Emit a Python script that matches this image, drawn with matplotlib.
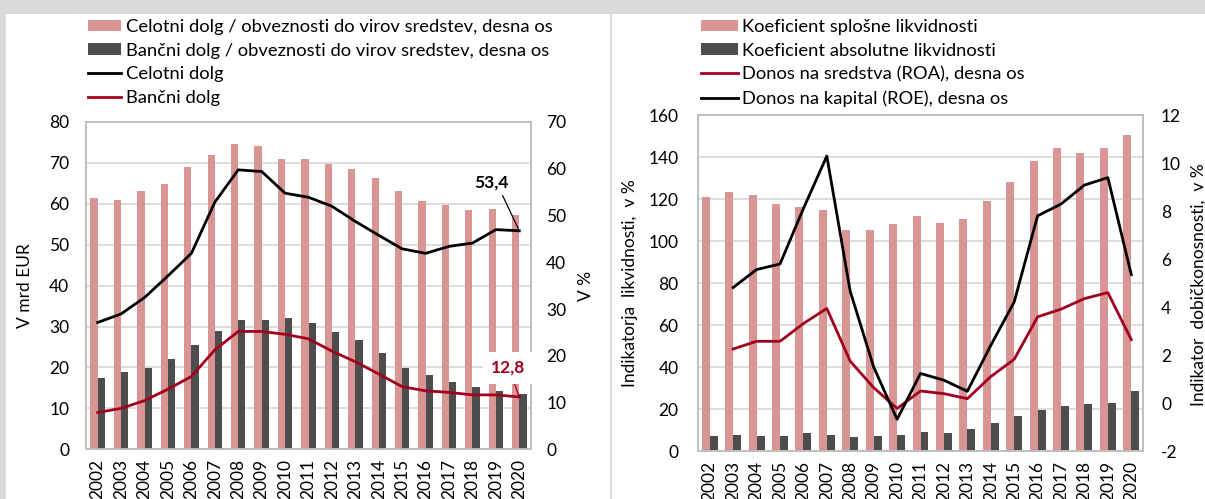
import numpy as np
import matplotlib
matplotlib.use("Agg")
import matplotlib.pyplot as plt
from matplotlib.patches import Rectangle
from matplotlib.lines import Line2D

plt.rcParams['font.family'] = ['Lato', 'DejaVu Sans']
plt.rcParams['axes.unicode_minus'] = False

# ---------------- data ----------------
years = [str(y) for y in range(2002, 2021)]

# left chart
celotni_share = [53.7, 53.4, 55.3, 56.8, 60.3, 63.0, 65.2, 64.9, 62.1, 62.1,
                 61.1, 59.9, 58.1, 55.3, 53.1, 52.2, 51.2, 51.3, 50.1]
bancni_share = [15.2, 16.5, 17.3, 19.3, 22.3, 25.4, 27.7, 27.7, 28.0, 27.0,
                25.1, 23.4, 20.5, 17.3, 15.8, 14.5, 13.4, 12.5, 11.8]
celotni_dolg = [31.0, 33.1, 37.1, 42.4, 47.9, 60.4, 68.3, 67.9, 62.6, 61.6,
                59.4, 55.7, 52.3, 49.0, 47.9, 49.6, 50.4, 53.7, 53.4]
bancni_dolg = [9.0, 10.0, 11.9, 14.7, 17.8, 24.3, 28.8, 28.8, 28.1, 27.0,
               24.0, 21.4, 18.4, 15.3, 14.3, 13.9, 13.3, 13.3, 12.8]

# right chart
splosna_likv = [121.0, 123.2, 121.9, 117.6, 116.2, 114.8, 105.1, 105.1, 107.9, 112.1,
                108.6, 110.6, 118.9, 127.9, 138.1, 144.3, 141.9, 144.3, 150.6]
absolutna_likv = [7.1, 7.8, 7.1, 7.1, 8.4, 7.8, 6.5, 7.1, 7.8, 9.2,
                  8.4, 10.5, 13.3, 16.7, 19.7, 21.6, 22.5, 23.0, 28.7]
roa = [np.nan, 2.25, 2.57, 2.57, 3.31, 3.94, 1.74, 0.64, -0.23, 0.50,
       0.39, 0.18, 1.1, 1.82, 3.59, 3.91, 4.35, 4.60, 2.64]
roe = [np.nan, 4.81, 5.56, 5.79, 8.1, 10.29, 4.65, 1.50, -0.68, 1.23,
       0.95, 0.49, 2.4, 4.21, 7.80, 8.29, 9.08, 9.39, 5.35]

left_labels = ["Celotni dolg / obveznosti do virov sredstev, desna os",
               "Bančni dolg / obveznosti do virov sredstev, desna os",
               "Celotni dolg", "Bančni dolg"]
right_labels = ["Koeficient splošne likvidnosti", "Koeficient absolutne likvidnosti",
                "Donos na sredstva (ROA), desna os", "Donos na kapital (ROE), desna os"]

# ---------------- style ----------------
PINK = '#D99594'
DARK = '#4D4D4D'
RED = '#A0001E'
GRID = '#D9D9D9'
SPINE = '#BFBFBF'
TICK_FS = 12.5
LEG_FS = 13.2
LAB_FS = 12.5

W, H = 1205, 499
fig = plt.figure(figsize=(W / 100, H / 100), dpi=100)
fig.patch.set_facecolor('white')

def fx(px):
    return px / W

def fy(py):
    return 1 - py / H

# gray frame pieces
fig.add_artist(Rectangle((0, fy(14)), 1, 14 / H, transform=fig.transFigure,
                         facecolor='#D9D9D9', edgecolor='none', zorder=-10))
fig.add_artist(Rectangle((0, 0), fx(6), 1, transform=fig.transFigure,
                         facecolor='#D9D9D9', edgecolor='none', zorder=-10))
fig.add_artist(Line2D([fx(611), fx(611)], [0, fy(14)], transform=fig.transFigure,
                      color='#D9D9D9', lw=1.2))

x = np.arange(len(years))


def style_axes(a):
    for s in a.spines.values():
        s.set_color(SPINE)
        s.set_linewidth(1.3)
    a.tick_params(length=0, labelsize=TICK_FS, colors='black')


# ============ LEFT CHART ============
rect_l = [fx(86), fy(449.3), fx(531) - fx(86), fy(122) - fy(449.3)]
axg = fig.add_axes(rect_l)           # grid + left scale
axb = axg.twinx()                     # bars, right scale
axl = axg.twinx()                     # lines, left scale

axg.set_zorder(1)
axb.set_zorder(2)
axl.set_zorder(3)
axb.patch.set_visible(False)
axl.patch.set_visible(False)

axg.set_xlim(-0.5, len(years) - 0.5)
axg.set_ylim(0, 80)
axg.set_yticks(np.arange(0, 81, 10))
axg.grid(axis='y', color=GRID, lw=1.3)
axg.set_xticks(x)
axg.set_xticklabels(years, rotation=90)
axg.tick_params(axis='x', pad=7)
axg.tick_params(axis='y', pad=12)
axg.set_ylabel("V mrd EUR", fontsize=LAB_FS, labelpad=12)
style_axes(axg)

bw = 0.31
b1 = axb.bar(x - bw / 2, celotni_share, bw, color=PINK, zorder=2)
b2 = axb.bar(x + bw / 2, bancni_share, bw, color=DARK, zorder=2)
axb.set_ylim(0, 70)
axb.set_yticks(np.arange(0, 71, 10))
axb.tick_params(axis='y', pad=11)
axb.set_ylabel("V %", fontsize=LAB_FS, labelpad=8)
style_axes(axb)

axl.set_ylim(0, 80)
axl.set_yticks([])
l1, = axl.plot(x, celotni_dolg, color='black', lw=2.0, solid_joinstyle='round')
l2, = axl.plot(x, bancni_dolg, color=RED, lw=2.0, solid_joinstyle='round')
for s in axl.spines.values():
    s.set_visible(False)
axl.tick_params(length=0)

fmt = lambda v: f"{v:.1f}".replace('.', ',')
axl.annotate(fmt(celotni_dolg[-1]), xy=(x[-1], celotni_dolg[-1]),
             xytext=(-20, 35), textcoords='offset points',
             ha='center', va='center', fontsize=12.5, fontweight='bold', color='black',
             bbox=dict(boxstyle='square,pad=0.3', fc='white', ec='none'),
             arrowprops=dict(arrowstyle='-', color='black', lw=0.9,
                             shrinkA=0, shrinkB=0, relpos=(0.75, 0.0)))
axl.annotate(fmt(bancni_dolg[-1]), xy=(x[-1], bancni_dolg[-1]),
             xytext=(-8, 21), textcoords='offset points',
             ha='center', va='center', fontsize=12.5, fontweight='bold', color=RED,
             bbox=dict(boxstyle='square,pad=0.45', fc='white', ec='none'),
             arrowprops=dict(arrowstyle='-', color=RED, lw=0.9,
                             shrinkA=0, shrinkB=0, relpos=(0.6, 0.0)))

fig.legend([b1, b2, l1, l2], left_labels, loc='upper left',
           bbox_to_anchor=(fx(88), fy(19)), frameon=False, fontsize=LEG_FS,
           handlelength=1.82, handleheight=0.62, handletextpad=0.25,
           labelspacing=0.42, borderpad=0, borderaxespad=0)

# ============ RIGHT CHART ============
rect_r = [fx(698), fy(451), fx(1143) - fx(698), fy(115) - fy(451)]
ax2 = fig.add_axes(rect_r)
ax2r = ax2.twinx()
ax2.set_zorder(1)
ax2r.set_zorder(2)
ax2r.patch.set_visible(False)

ax2.set_xlim(-0.5, len(years) - 0.5)
ax2.set_ylim(0, 160)
ax2.set_yticks(np.arange(0, 161, 20))
ax2.set_axisbelow(True)
ax2.grid(axis='y', color=GRID, lw=1.3)
bw2 = 0.34
c1 = ax2.bar(x - bw2 / 2, splosna_likv, bw2, color=PINK)
c2 = ax2.bar(x + bw2 / 2, absolutna_likv, bw2, color=DARK)
ax2.set_xticks(x)
ax2.set_xticklabels(years, rotation=90)
ax2.tick_params(axis='x', pad=7)
ax2.tick_params(axis='y', pad=14)
style_axes(ax2)
fig.text(fx(630), fy(283), "Indikatorja  likvidnosti,  v %", rotation=90,
         ha='center', va='center', fontsize=LAB_FS)

ax2r.set_ylim(-2, 12)
ax2r.set_yticks(np.arange(-2, 13, 2))
r1, = ax2r.plot(x, roa, color=RED, lw=2.0)
r2, = ax2r.plot(x, roe, color='black', lw=2.0)
ax2r.tick_params(axis='y', pad=13)
style_axes(ax2r)
fig.text(fx(1191), fy(285), "Indikator  dobičkonosnosti,  v %", rotation=90,
         ha='left', va='center', fontsize=LAB_FS)

fig.legend([c1, c2, r1, r2], right_labels, loc='upper left',
           bbox_to_anchor=(fx(701), fy(19)), frameon=False, fontsize=LEG_FS,
           handlelength=2.0, handleheight=0.62, handletextpad=0.22,
           labelspacing=0.42, borderpad=0, borderaxespad=0)

fig.savefig("out.png", dpi=100, facecolor='white')
